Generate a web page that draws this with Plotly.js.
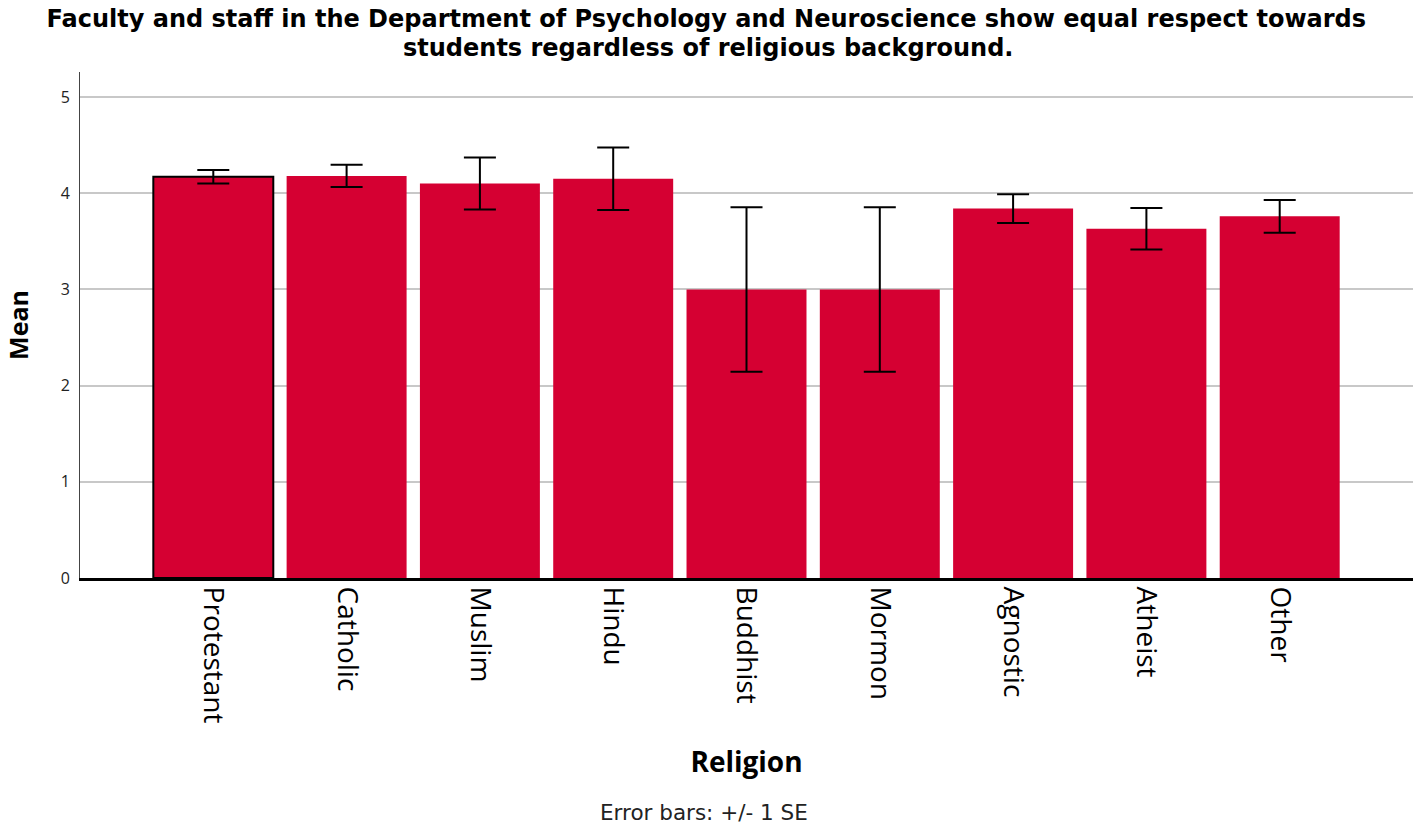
<!DOCTYPE html>
<html>
<head>
<meta charset="utf-8">
<script src="https://cdn.plot.ly/plotly-3.0.1.min.js"></script>
<style>html,body{margin:0;padding:0;background:#fff;}#chart{width:1424px;height:825px;}</style>
</head>
<body>
<div id="chart"></div>
<script>
const religions = ["Protestant","Catholic","Muslim","Hindu","Buddhist","Mormon","Agnostic","Atheist","Other"];
const means = [4.17, 4.18, 4.10, 4.15, 3.00, 3.00, 3.84, 3.63, 3.76];
const se = [0.07, 0.115, 0.27, 0.325, 0.855, 0.855, 0.15, 0.215, 0.17];
const outlineWidths = [2, 0, 0, 0, 0, 0, 0, 0, 0];
const yTicks = [0, 1, 2, 3, 4, 5];
const titleLine1 = 'Faculty and staff in the Department of Psychology and Neuroscience show equal respect towards';
const titleLine2 = 'students regardless of religious background.';
const footnote = 'Error bars: +/- 1 SE';

const trace = {
  type: 'bar',
  x: religions,
  y: means,
  marker: {color: '#d50032', line: {color: '#000', width: outlineWidths}},
  error_y: {type: 'data', array: se, visible: true, color: '#000', thickness: 2, width: 16},
  hoverinfo: 'x+y'
};

const titleFont = {family: 'DejaVu Sans', size: 24, color: '#000', weight: 'bold'};

const layout = {
  width: 1424, height: 825,
  paper_bgcolor: '#fff', plot_bgcolor: '#fff',
  margin: {l: 80, r: 11, t: 72, b: 247},
  bargap: 0.1,
  showlegend: false,
  title: {
    text: titleLine1,
    font: titleFont,
    x: 0.496, xanchor: 'center', xref: 'container',
    y: 1 - 19 / 825, yanchor: 'middle', yref: 'container'
  },
  xaxis: {
    type: 'category',
    range: [-1, 9],
    tickangle: 90,
    tickfont: {family: 'Open Sans', size: 28, color: '#000'},
    showgrid: false,
    showline: true, linecolor: '#000', linewidth: 3,
    ticks: '',
    zeroline: false,
    title: {text: 'Religion', font: {family: 'Open Sans', size: 28, color: '#000', weight: 'bold'}, standoff: 30},
    automargin: false,
    fixedrange: true
  },
  yaxis: {
    range: [0, 5.26],
    tickvals: yTicks,
    ticktext: yTicks.map(String),
    tickfont: {family: 'Open Sans', size: 16, color: '#222'},
    showgrid: true, gridcolor: '#c8c8c8', gridwidth: 1.5,
    showline: true, linecolor: '#444', linewidth: 1,
    zeroline: false,
    ticks: '',
    ticklabelstandoff: 6,
    title: {text: 'Mean', font: {family: 'Open Sans', size: 25, color: '#000', weight: 'bold'}, standoff: 24},
    automargin: false,
    fixedrange: true
  },
  annotations: [{
    text: titleLine2,
    xref: 'paper', yref: 'paper',
    x: (708 - 80) / 1333, y: (578 - 48) / 506, xanchor: 'center', yanchor: 'middle',
    showarrow: false,
    font: titleFont
  }, {
    text: footnote,
    xref: 'paper', yref: 'paper',
    x: (704 - 80) / 1333, y: -(812 - 578) / 506, xanchor: 'center', yanchor: 'middle',
    showarrow: false,
    font: {family: 'DejaVu Sans', size: 21.5, color: '#222'}
  }]
};

Plotly.newPlot('chart', [trace], layout, {displayModeBar: false});
</script>
</body>
</html>
